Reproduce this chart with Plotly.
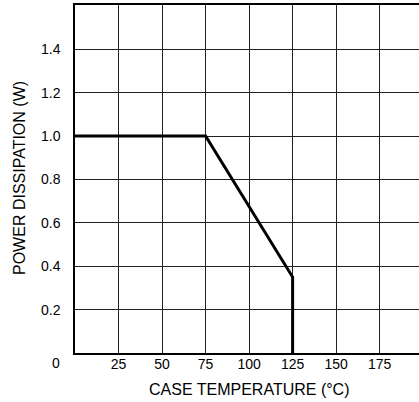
import plotly.graph_objects as go

# Power derating curve: case temperature (°C) vs. allowable dissipation (W)
temp_c = [0, 75, 125, 125]
power_w = [1.0, 1.0, 0.35, 0.0]

x_ticks = [25, 50, 75, 100, 125, 150, 175]
y_ticks = [0.2, 0.4, 0.6, 0.8, 1.0, 1.2, 1.4]
y_tick_text = ["0.2", "0.4", "0.6", "0.8", "1.0", "1.2", "1.4"]

FONT = "Liberation Sans, Arial, sans-serif"

fig = go.Figure()
fig.add_trace(go.Scatter(
    x=temp_c, y=power_w, mode="lines",
    line=dict(color="black", width=3),
    hoverinfo="skip", showlegend=False,
))

fig.update_layout(
    width=419, height=402,
    margin=dict(l=75, r=0, t=5, b=49),
    paper_bgcolor="white", plot_bgcolor="white",
    font=dict(family=FONT, size=14, color="black"),
    xaxis=dict(
        range=[0, 197.6], tickmode="array", tickvals=x_ticks,
        ticks="", showgrid=True, gridcolor="#222", gridwidth=1,
        zeroline=False, showline=True, linecolor="black", linewidth=1.5,
        mirror=True, ticklabelstandoff=-3,
    ),
    yaxis=dict(
        range=[0, 1.604], tickmode="array", tickvals=y_ticks,
        ticktext=y_tick_text,
        ticks="", showgrid=True, gridcolor="#222", gridwidth=1,
        zeroline=False, showline=True, linecolor="black", linewidth=1.5,
        ticklabelstandoff=10,
    ),
    annotations=[
        dict(text="0", xref="paper", yref="paper", x=-(75 - 56) / 344,
             y=-(363 - 353) / 348, xanchor="center", yanchor="middle",
             showarrow=False, font=dict(size=14)),
        dict(text="CASE TEMPERATURE (°C)", xref="paper", yref="paper",
             x=(249 - 75) / 344, y=-(390 - 353) / 348,
             xanchor="center", yanchor="middle", showarrow=False,
             font=dict(size=16)),
        dict(text="POWER DISSIPATION (W)", xref="paper", yref="paper",
             x=-(75 - 19) / 344, y=(353 - 178) / 348, textangle=-90,
             xanchor="center", yanchor="middle", showarrow=False,
             font=dict(size=16)),
    ],
)

fig.write_html("out.html")
